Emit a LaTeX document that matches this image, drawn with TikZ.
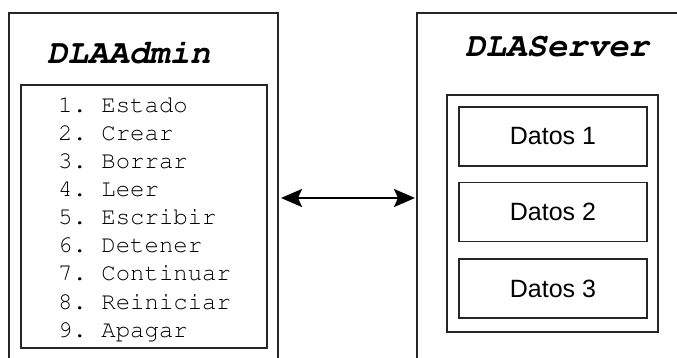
\documentclass[tikz,border=0pt]{standalone}
\usepackage[T1]{fontenc}
\usepackage{fontspec}
\usetikzlibrary{arrows.meta}
\newfontfamily\datafont{Liberation Sans}
\newcommand\courfont{\fontencoding{T1}\fontfamily{pcr}\selectfont\frenchspacing}
\begin{document}
\begin{tikzpicture}[x=1pt,y=-1pt,
  frame/.style={draw=black!85, line width=1.6pt},
  panel/.style={draw=black!85, line width=2pt, inner sep=0pt},
  databox/.style={draw=black!85, line width=1.6pt, minimum width=188pt, minimum height=59pt, inner sep=0pt, font=\datafont\fontsize{25}{28}\selectfont},
  title/.style={anchor=base west, inner sep=0pt, font=\fontsize{34}{38}\courfont\fontseries{b}\fontshape{sl}\selectfont},
  item/.style={anchor=base west, inner sep=0pt, font=\fontsize{24}{26}\courfont},
  link/.style={line width=2.2pt, {Stealth[length=21pt,width=18pt,inset=4pt]}-{Stealth[length=21pt,width=18pt,inset=4pt]}}]
\useasboundingbox (0,0) rectangle (677,358);
% outer frames
\draw[frame] (9,358) coordinate (adminBL) -- (9,13) -- (278,13) -- (278,358) coordinate (adminBR);
\draw[frame] (417,358) coordinate (serverBL) -- (417,13) -- (677,13) coordinate (serverTR);
% titles
\node[title] (admintitle) at (47,64) {DLAAdmin};
\node[title] (servertitle) at (465,57) {DLAServer};
% admin list panel
\node[panel, minimum width=246pt, minimum height=263pt] (adminlist) at (144,216.5) {};
\foreach \i/\t in {1/Estado,2/Crear,3/Borrar,4/Leer,5/Escribir,6/Detener,7/Continuar,8/Reiniciar,9/Apagar}{
  \node[item] (item\i) at (58,{112.3+28.1*(\i-1)}) {\i. \t};
}
% server panel
\node[panel, minimum width=211pt, minimum height=237pt] (serverpanel) at (552.5,213.5) {};
\node[databox] (d1) at (553,136.5) {Datos 1};
\node[databox] (d2) at (553,212) {Datos 2};
\node[databox] (d3) at (553,288.5) {Datos 3};
% link
\coordinate (aL) at (281,198);
\coordinate (aR) at (415,198);
\draw[link] (aL) -- (aR);
\end{tikzpicture}
\end{document}
